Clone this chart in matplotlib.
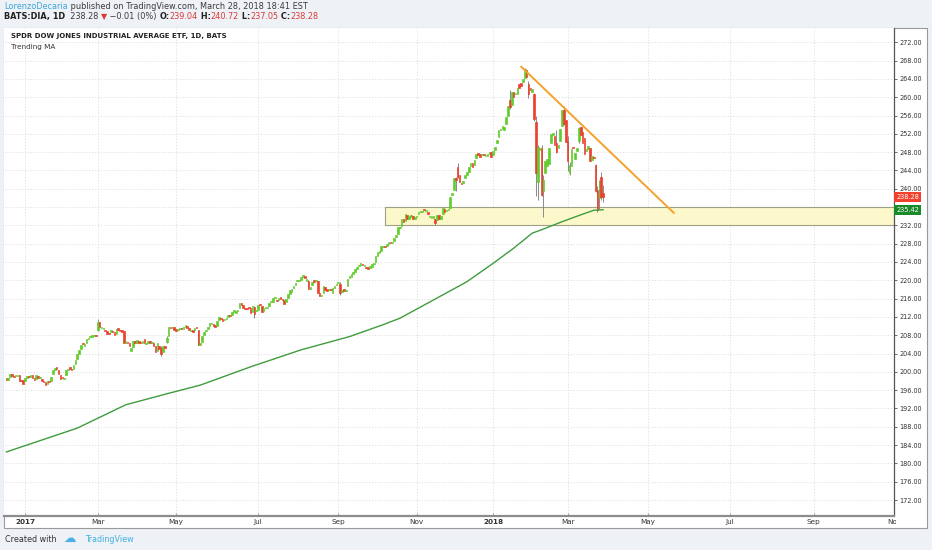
import matplotlib
matplotlib.use('Agg')
import matplotlib.pyplot as plt
import numpy as np
import pandas as pd
from matplotlib.patches import Rectangle
from matplotlib.transforms import Bbox, TransformedBbox

W, H, DPI = 932, 550, 100

# ---------------- data ----------------
holidays = ['2016-12-26', '2017-01-02', '2017-01-16', '2017-02-20', '2017-04-14',
            '2017-05-29', '2017-07-04', '2017-09-04', '2017-11-23', '2017-12-25',
            '2018-01-01', '2018-01-15', '2018-02-19']

open_2016_12 = [198.6, 198.3, 198.8, 199.5, 199.2, 199.0, 199.1, 199.3, 198.2, 198.2]
close_2016_12 = [198.2, 198.6, 199.5, 199.2, 198.9, 199.1, 199.2, 198.1, 198.0, 197.4]

open_2017_01 = [198.0, 198.7, 199.1, 198.9, 199.3, 198.5, 198.4, 199.1, 198.6, 198.4,
                198.0, 197.8, 197.4, 197.9, 197.9, 199.6, 200.5, 200.9, 200.4, 199.3]
close_2017_01 = [198.6, 199.2, 198.8, 199.4, 198.6, 198.3, 199.3, 198.7, 198.6, 198.0,
                 197.8, 197.1, 198.0, 197.7, 198.9, 200.4, 200.8, 200.7, 199.5, 198.4]

open_2017_02 = [198.8, 198.5, 199.4, 200.3, 200.8, 200.5, 200.6, 201.8, 202.7, 203.9,
                205.0, 206.1, 205.6, 206.4, 207.2, 207.6, 207.7, 207.9, 208.0]
close_2017_02 = [198.7, 198.6, 200.5, 200.3, 200.7, 200.3, 201.5, 202.5, 203.9, 204.8,
                 205.9, 206.0, 206.0, 207.2, 207.5, 207.9, 208.0, 208.1, 207.9]

open_2017_03 = [209.1, 210.9, 209.6, 209.3, 209.1, 209.0, 208.5, 208.8, 208.7, 208.6,
                208.3, 209.5, 209.1, 208.9, 209.0, 206.4, 206.6, 206.3, 204.6, 205.4,
                206.7, 206.2, 206.8]
close_2017_03 = [210.9, 209.8, 209.8, 209.3, 209.0, 208.3, 208.3, 208.8, 208.6, 208.1,
                 209.3, 209.1, 208.9, 208.8, 206.4, 206.4, 206.3, 205.7, 205.3, 206.8,
                 206.3, 207.0, 206.4]

open_2017_04 = [206.5, 206.2, 207.2, 206.1, 206.4, 206.6, 206.3, 206.3, 205.6, 204.6,
                205.6, 205.3, 204.3, 205.6, 206.6, 207.8, 209.9, 209.5, 209.8]
close_2017_04 = [206.3, 206.7, 206.3, 206.4, 206.4, 206.4, 206.3, 205.7, 204.3, 206.2,
                 205.0, 203.8, 205.6, 205.3, 207.4, 209.8, 209.6, 209.6, 209.2]

open_2017_05 = [209.4, 209.1, 209.3, 209.5, 209.4, 209.9, 210.0, 209.5, 208.9, 209.0,
                209.1, 209.8, 209.1, 205.8, 206.6, 208.1, 209.0, 209.3, 210.0, 210.5,
                210.4, 210.2]
close_2017_05 = [208.9, 209.3, 209.4, 209.3, 209.9, 209.9, 209.6, 209.2, 209.0, 208.8,
                 209.6, 209.6, 205.9, 206.4, 207.8, 208.8, 209.2, 209.9, 210.6, 210.6,
                 210.1, 209.9]

open_2017_06 = [210.1, 211.3, 211.8, 211.5, 211.3, 211.6, 211.9, 212.3, 212.4, 213.1,
                212.9, 213.2, 213.9, 215.0, 214.5, 213.9, 213.9, 214.0, 213.9, 213.1,
                214.2, 213.3]
close_2017_06 = [211.2, 211.9, 211.6, 211.2, 211.5, 211.6, 212.5, 212.2, 213.1, 213.5,
                 213.4, 213.6, 215.1, 214.5, 213.9, 213.8, 213.7, 213.9, 212.9, 214.3,
                 212.7, 213.3]

open_2017_07 = [213.6, 214.7, 214.3, 213.3, 213.9, 213.9, 214.4, 215.2, 215.3, 216.1,
                215.8, 215.7, 216.3, 215.8, 215.6, 215.3, 216.2, 217.0, 217.4, 218.3]
close_2017_07 = [214.6, 214.6, 213.0, 213.9, 213.9, 213.9, 215.1, 215.3, 216.2, 216.1,
                 215.5, 216.2, 215.9, 215.6, 214.9, 215.9, 216.9, 217.8, 218.1, 218.7]

open_2017_08 = [218.9, 219.8, 219.9, 220.1, 220.8, 220.9, 219.9, 219.8, 218.2, 218.9,
                220.0, 219.8, 219.9, 217.3, 216.6, 217.2, 218.5, 218.0, 217.9, 217.9,
                217.3, 218.3, 218.9]
close_2017_08 = [219.4, 219.9, 220.0, 220.7, 220.9, 220.6, 220.2, 218.2, 218.3, 219.7,
                 219.7, 220.0, 217.3, 216.5, 216.8, 218.7, 217.9, 217.6, 217.9, 217.8,
                 218.4, 218.7, 219.2]

open_2017_09 = [219.4, 219.3, 217.4, 218.0, 217.6, 218.8, 220.5, 220.8, 221.3, 221.8,
                222.5, 223.1, 223.4, 223.6, 223.1, 222.9, 222.9, 222.7, 223.0, 223.5]
close_2017_09 = [219.6, 217.2, 217.8, 217.6, 217.7, 220.3, 220.9, 221.3, 221.8, 222.4,
                 223.0, 223.4, 223.8, 223.3, 223.2, 222.7, 222.5, 223.1, 223.5, 223.8]

open_2017_10 = [224.1, 225.4, 226.0, 226.4, 227.3, 227.4, 227.5, 228.0, 228.4, 228.1,
                228.6, 229.5, 230.2, 231.4, 231.8, 233.4, 232.9, 234.3, 233.4, 233.9,
                234.1, 233.3]
close_2017_10 = [225.3, 226.1, 226.3, 227.5, 227.4, 227.3, 228.0, 228.4, 228.1, 228.4,
                 229.3, 230.0, 231.6, 231.7, 233.3, 232.7, 234.4, 233.3, 234.0, 234.3,
                 233.5, 233.8]

open_2017_11 = [233.9, 234.4, 235.0, 235.0, 235.4, 235.2, 235.0, 233.9, 233.7, 233.7,
                233.4, 233.2, 234.2, 233.4, 234.4, 235.6, 235.2, 235.4, 235.8, 238.6,
                239.8]
close_2017_11 = [234.1, 234.9, 235.1, 235.2, 235.3, 235.4, 234.4, 234.0, 234.1, 233.8,
                 232.5, 234.3, 233.3, 234.0, 235.7, 235.0, 235.3, 235.5, 238.1, 239.1,
                 242.4]

open_2017_12 = [242.1, 244.8, 242.9, 241.3, 241.3, 242.4, 243.0, 243.7, 244.9, 245.6,
                245.2, 246.8, 247.8, 247.5, 247.3, 247.5, 247.1, 247.1, 247.7, 248.1]
close_2017_12 = [242.0, 242.6, 241.5, 241.1, 241.8, 243.0, 243.6, 244.8, 245.6, 244.8,
                 246.3, 247.6, 247.3, 247.0, 247.5, 247.3, 247.2, 247.5, 248.1, 246.9]

open_2018_01 = [247.4, 248.5, 249.9, 251.3, 252.8, 253.0, 252.8, 254.1, 256.0, 259.5,
                258.3, 261.1, 260.6, 260.8, 262.8, 263.2, 263.3, 264.3, 265.9, 262.9,
                262.1]
close_2018_01 = [248.2, 249.2, 250.7, 252.9, 252.8, 253.8, 253.6, 255.7, 258.0, 257.9,
                 261.1, 260.1, 260.7, 262.1, 262.1, 262.5, 263.9, 266.1, 264.4, 260.7,
                 261.5]

open_2018_02 = [261.1, 260.6, 254.6, 241.5, 248.5, 248.9, 239.6, 243.5, 245.0, 245.5,
                250.0, 251.8, 251.5, 250.0, 248.9, 250.5, 253.8, 257.1, 255.0]
close_2018_02 = [261.8, 255.2, 243.5, 249.1, 248.9, 238.6, 241.9, 246.0, 246.4, 248.9,
                 252.0, 252.2, 249.6, 248.0, 249.6, 253.1, 257.1, 254.1, 250.3]

open_2018_03 = [250.5, 243.5, 245.0, 249.2, 246.6, 248.3, 250.4, 253.5, 252.5, 251.0,
                248.3, 248.7, 248.8, 246.3, 247.0, 245.1, 239.7, 237.9, 242.6, 239.04]
close_2018_03 = [246.0, 245.3, 248.7, 248.8, 247.9, 248.9, 253.3, 251.7, 250.0, 247.5,
                 248.6, 249.4, 246.0, 247.2, 246.7, 239.6, 235.3, 241.8, 238.3, 238.28]

# visible wicks (date, high, low)
wick_dates = ['2017-03-01', '2017-04-19', '2017-04-24', '2017-05-17', '2017-06-29',
              '2017-08-10', '2017-08-17', '2017-09-05', '2017-11-15', '2017-12-01',
              '2017-12-04', '2018-01-16', '2018-01-26', '2018-01-30', '2018-02-02',
              '2018-02-05', '2018-02-06', '2018-02-08', '2018-02-09', '2018-02-21',
              '2018-02-27', '2018-03-01', '2018-03-02', '2018-03-09', '2018-03-22',
              '2018-03-23', '2018-03-26', '2018-03-27', '2018-03-28']
wick_highs = [211.6, 205.7, 207.9, 209.2, 214.4, 220.0, 219.8, 219.7, 233.4, 242.6,
              245.6, 261.6, 266.3, 263.5, 261.0, 256.0, 249.5, 249.5, 243.0, 252.8,
              258.0, 251.5, 245.8, 253.6, 245.4, 240.5, 242.0, 243.7, 240.72]
wick_lows = [209.0, 203.5, 206.3, 205.8, 211.8, 218.1, 217.2, 216.8, 232.0, 239.5,
             242.4, 257.5, 264.2, 259.9, 254.8, 238.5, 237.6, 238.4, 233.8, 247.8,
             254.0, 243.8, 242.9, 250.0, 239.2, 235.0, 235.5, 237.5, 237.05]

# Trending MA (sampled along the line)
ma_dates = ['2016-12-16', '2017-02-13', '2017-03-22', '2017-04-24', '2017-05-18',
            '2017-06-27', '2017-08-04', '2017-09-12', '2017-10-06', '2017-10-19',
            '2017-11-21', '2017-12-11', '2018-01-02', '2018-01-18', '2018-02-01',
            '2018-02-09', '2018-02-26', '2018-03-12', '2018-03-21', '2018-03-28']
ma_values = [182.5, 187.7, 192.8, 195.2, 197.1, 201.1, 204.8, 207.7, 210.3, 211.7,
             216.8, 219.7, 223.7, 227.0, 230.3, 231.2, 232.8, 234.3, 235.3, 235.42]

trend_dates = ['2018-01-24', '2018-05-21']
trend_prices = [266.7, 234.7]

zone_start = '2017-10-09'
zone_low, zone_high = 232.1, 236.1

last_price = 238.28
ma_last = 235.42

y_ticks = list(range(172, 273, 4))
x_tick_months = ['2017-01', '2017-03', '2017-05', '2017-07', '2017-09', '2017-11',
                 '2018-01', '2018-03', '2018-05', '2018-07', '2018-09', '2018-11']
x_tick_labels = ['2017', 'Mar', 'May', 'Jul', 'Sep', 'Nov',
                 '2018', 'Mar', 'May', 'Jul', 'Sep', 'Nov']

opens = (open_2016_12 + open_2017_01 + open_2017_02 + open_2017_03 + open_2017_04 +
         open_2017_05 + open_2017_06 + open_2017_07 + open_2017_08 + open_2017_09 +
         open_2017_10 + open_2017_11 + open_2017_12 + open_2018_01 + open_2018_02 +
         open_2018_03)
closes = (close_2016_12 + close_2017_01 + close_2017_02 + close_2017_03 + close_2017_04 +
          close_2017_05 + close_2017_06 + close_2017_07 + close_2017_08 + close_2017_09 +
          close_2017_10 + close_2017_11 + close_2017_12 + close_2018_01 + close_2018_02 +
          close_2018_03)

# ---------------- bar index axis (trading days, then weekdays) ----------------
trade_days = pd.bdate_range('2016-12-16', '2018-03-28', freq='C', holidays=holidays)
future_days = pd.bdate_range('2018-03-29', '2018-12-31')
all_days = list(trade_days) + list(future_days)
origin = list(trade_days).index(pd.Timestamp('2017-01-03'))
idx_of = {d.strftime('%Y-%m-%d'): i - origin for i, d in enumerate(all_days)}


def xi(s):
    return idx_of[s]


n = min(len(trade_days), len(opens), len(closes))
xs = np.arange(n) - origin
o = np.array(opens[:n])
c = np.array(closes[:n])

PX0, PXS = 25.0, 1.865   # pixel of index 0, pixels per bar

# ---------------- figure ----------------
BG = '#eef1f5'
fig = plt.figure(figsize=(W / DPI, H / DPI), dpi=DPI, facecolor=BG)

# white chart panel with border (behind the axes)
panel = Rectangle((4 / W, 1 - 528 / H), 923 / W, 500 / H, transform=fig.transFigure,
                  facecolor='white', edgecolor='#9a9a9a', lw=0.8, zorder=-5)
fig.patches.append(panel)

ax_l, ax_r, ax_t, ax_b = 4, 894, 28, 516
ax = fig.add_axes([ax_l / W, 1 - ax_b / H, (ax_r - ax_l) / W, (ax_b - ax_t) / H])
ax.set_zorder(1)
ax.set_facecolor('white')

ax.set_xlim((ax_l - PX0) / PXS, (ax_r - PX0) / PXS)
y_of = lambda px: 272 - (px - 42.3) / 4.577
ax.set_ylim(y_of(ax_b), y_of(ax_t))

# grid
grid_kw = dict(color='#dcdcdc', lw=0.6, ls=(0, (1.5, 2.0)), zorder=0)
for yv in y_ticks:
    ax.axhline(yv, **grid_kw)
tick_pos = []
for m in x_tick_months:
    first = [k for k in idx_of if k.startswith(m)]
    tick_pos.append(min(idx_of[k] for k in first))
for xv in tick_pos:
    ax.axvline(xv, **grid_kw)

# zone box
xl = ax.get_xlim()
ax.add_patch(Rectangle((xi(zone_start), zone_low), xl[1] - xi(zone_start) + 5, zone_high - zone_low,
                       facecolor='#fcf8cb', edgecolor='#a09e84', lw=0.8, zorder=1))

# wicks
ax.vlines([xi(d) for d in wick_dates], wick_lows, wick_highs, color='#8a8a8a', lw=0.7, zorder=2)

# candles
up = c >= o
cols = np.where(up, '#62cc2e', '#e9412e')
bottoms = np.minimum(o, c)
heights = np.maximum(np.abs(c - o), 0.25)
ax.bar(xs, heights, bottom=bottoms, width=0.85, color=cols, edgecolor=cols,
       linewidth=0.5, zorder=3)

# moving average
ax.plot([xi(d) for d in ma_dates], ma_values, color='#3f9c3e', lw=1.0, zorder=4)

# trend line
ax.plot([xi(d) for d in trend_dates], trend_prices, color='#f5a22b', lw=1.4, zorder=5,
        solid_capstyle='round')

# axes styling
for s in ['top', 'left']:
    ax.spines[s].set_visible(False)
ax.spines['right'].set_color('#555555')
ax.spines['right'].set_linewidth(0.9)
ax.spines['bottom'].set_color('#8c8c8c')
ax.spines['bottom'].set_linewidth(1.6)

ax.yaxis.tick_right()
ax.set_yticks(y_ticks)
ax.set_yticklabels([f'{v:.2f}' for v in y_ticks])
ax.tick_params(axis='y', direction='out', length=2.5, width=0.6, colors='#555555',
               labelsize=4.7, labelcolor='#333333', pad=1.5)
ax.set_xticks(tick_pos)
ax.set_xticklabels(x_tick_labels)
ax.tick_params(axis='x', length=2, width=0.6, direction='in', colors='#8c8c8c',
               labelsize=5.2, labelcolor='#333333', pad=2.2)
clip = TransformedBbox(Bbox([[ax_l / W, 0], [ax_r / W + 0.002, 1]]), fig.transFigure)
for lab, txt in zip(ax.get_xticklabels(), x_tick_labels):
    lab.set_family(['Liberation Sans Narrow', 'DejaVu Sans'])
    if txt.isdigit():
        lab.set_fontweight('bold')
    lab.set_clip_on(True)
    lab.set_clip_box(clip)

# price labels on the axis (hide overlapped tick label under the last-price box)
for lab, v in zip(ax.get_yticklabels(), y_ticks):
    if v == 236:
        lab.set_visible(False)
for val, fc in [(last_price, '#f2402e'), (ma_last, '#1b8a2a')]:
    ax.annotate(f'{val:.2f}', xy=(1, val), xycoords=('axes fraction', 'data'),
                xytext=(1.6, 0), textcoords='offset points', ha='left', va='center',
                fontsize=4.7, color='white', zorder=10, annotation_clip=False,
                bbox=dict(boxstyle='square,pad=0.32', fc=fc, ec='none'))

# chart titles
fig.text(11 / W, 1 - 36 / H, 'SPDR DOW JONES INDUSTRIAL AVERAGE ETF, 1D, BATS',
         fontsize=5.0, fontweight='bold', color='#222222', va='center', ha='left', zorder=3)
fig.text(11 / W, 1 - 46.5 / H, 'Trending MA', fontsize=5.2, color='#333333',
         va='center', ha='left', zorder=3)

# header built from pieces
renderer = fig.canvas.get_renderer()


def pieces(x_px, y_px, parts, size):
    x = x_px
    for txt, col, wt in parts:
        t = fig.text(x / W, 1 - y_px / H, txt, fontsize=size, color=col, fontweight=wt,
                     va='center', ha='left')
        x += t.get_window_extent(renderer).width


DK, RD = '#3a3a3a', '#d93a36'
pieces(4, 6.8, [('LorenzoDecaria', '#3aa7dd', 'normal'),
                (' published on TradingView.com, March 28, 2018 18:41 EST', DK, 'normal')], 5.9)
pieces(4, 16.8, [('BATS:DIA, 1D', '#222222', 'bold'), ('  238.28 ', DK, 'normal'),
                 ('▼', RD, 'normal'), (' −0.01 (0%) ', DK, 'normal'),
                 ('O:', '#222222', 'bold'), ('239.04', RD, 'normal'),
                 (' H:', '#222222', 'bold'), ('240.72', RD, 'normal'),
                 (' L:', '#222222', 'bold'), ('237.05', RD, 'normal'),
                 (' C:', '#222222', 'bold'), ('238.28', RD, 'normal')], 5.9)

# footer
fig.text(5 / W, 1 - 539 / H, 'Created with', fontsize=5.8, color='#333333', va='center',
         family=['Liberation Sans Narrow', 'DejaVu Sans'])
fig.text(63 / W, 1 - 538 / H, '☁', fontsize=9, color='#4db0e4', va='center')
fig.text(85 / W, 1 - 539 / H, 'TradingView', fontsize=5.8, color='#3fb1e5', va='center',
         family=['Liberation Sans Narrow', 'DejaVu Sans'])

fig.savefig('out.png', dpi=DPI, facecolor=BG)
